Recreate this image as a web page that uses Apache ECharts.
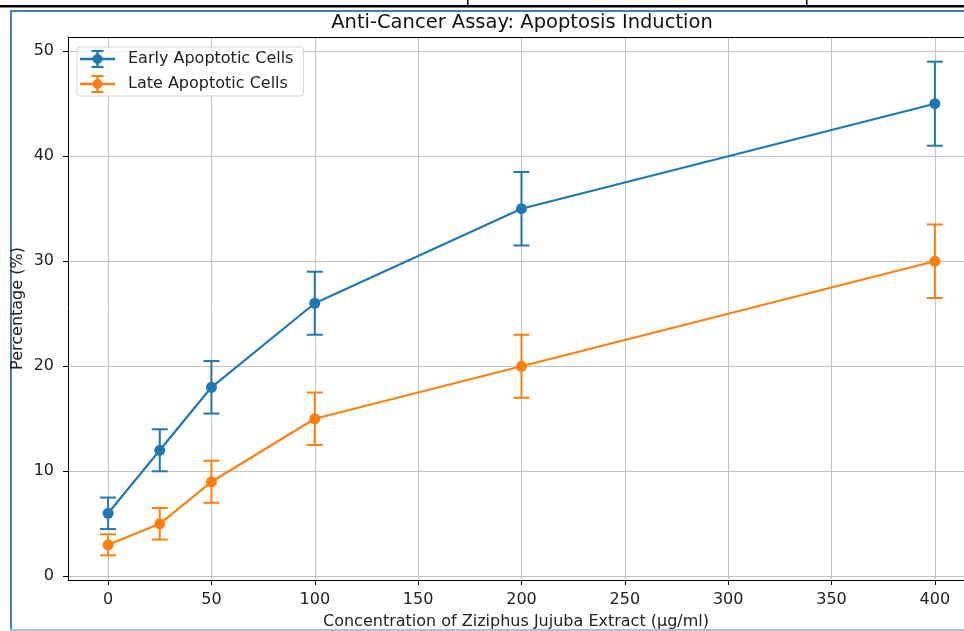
<!DOCTYPE html>
<html>
<head>
<meta charset="utf-8">
<script src="https://cdn.jsdelivr.net/npm/echarts@6/dist/echarts.min.js"></script>
<style>
    html, body { margin: 0; padding: 0; background: #fff; }
    #chart { width: 964px; height: 631px; }
</style>
</head>
<body>
<div id="chart"></div>
<script>
var concentrations = [0, 25, 50, 100, 200, 400];
var earlyMean = [6, 12, 18, 26, 35, 45];
var earlyErr = [1.5, 2, 2.5, 3, 3.5, 4];
var lateMean = [3, 5, 9, 15, 20, 30];
var lateErr = [1, 1.5, 2, 2.5, 3, 3.5];
var xTicks = [0, 50, 100, 150, 200, 250, 300, 350, 400];
var yTicks = [0, 10, 20, 30, 40, 50];

var BLUE = '#1f77b4';
var ORANGE = '#ff7f0e';
var FONT = 'DejaVu Sans';

// errorbar glyph for the legend: horizontal line, vertical bar with caps, dot
var legendIcon = 'path://M0,7.8h35v2.4h-35z M16.3,0h2.4v18h-2.4z M11.5,0h12v2h-12z M11.5,16h12v2h-12z ' +
    'M22.5,9A5,5 0 1,1 12.5,9A5,5 0 1,1 22.5,9z';

function pairs(xs, ys) {
    return xs.map(function (x, i) { return [x, ys[i]]; });
}

function errRows(xs, ys, es) {
    return xs.map(function (x, i) { return [x, ys[i] - es[i], ys[i] + es[i]]; });
}

function errorSeries(name, color, rows) {
    return {
        name: name,
        type: 'custom',
        silent: true,
        data: rows,
        encode: { x: 0, y: [1, 2] },
        renderItem: function (params, api) {
            var lo = api.coord([api.value(0), api.value(1)]);
            var hi = api.coord([api.value(0), api.value(2)]);
            var half = 8;
            var style = { stroke: color, lineWidth: 2, fill: null };
            return {
                type: 'group',
                children: [
                    { type: 'line', shape: { x1: lo[0], y1: lo[1], x2: hi[0], y2: hi[1] }, style: style },
                    { type: 'line', shape: { x1: hi[0] - half, y1: hi[1], x2: hi[0] + half, y2: hi[1] }, style: style },
                    { type: 'line', shape: { x1: lo[0] - half, y1: lo[1], x2: lo[0] + half, y2: lo[1] }, style: style }
                ]
            };
        }
    };
}

function lineSeries(name, color, data) {
    return {
        name: name,
        type: 'line',
        data: data,
        symbol: 'circle',
        symbolSize: 11,
        showAllSymbol: true,
        lineStyle: { color: color, width: 2.2 },
        itemStyle: { color: color },
        emphasis: { disabled: true }
    };
}

var chart = echarts.init(document.getElementById('chart'));

var option = {
    animation: false,
    backgroundColor: '#fff',
    textStyle: { fontFamily: FONT },
    title: {
        text: 'Anti-Cancer Assay: Apoptosis Induction',
        left: 517,
        textAlign: 'center',
        top: 8,
        textStyle: { fontFamily: FONT, fontSize: 19.5, fontWeight: 'normal', color: '#111' }
    },
    legend: {
        left: 77,
        top: 47,
        orient: 'vertical',
        padding: [3, 10, 3, 3],
        itemWidth: 35,
        itemHeight: 18,
        itemGap: 7,
        backgroundColor: 'rgba(255,255,255,0.8)',
        borderColor: '#d5d5d5',
        borderWidth: 1,
        borderRadius: 3,
        textStyle: { fontFamily: FONT, fontSize: 16, color: '#222', padding: [0, 0, 0, 8] },
        data: [
            { name: 'Early Apoptotic Cells', icon: legendIcon, itemStyle: { color: BLUE } },
            { name: 'Late Apoptotic Cells', icon: legendIcon, itemStyle: { color: ORANGE } }
        ],
        selectedMode: false
    },
    grid: {
        left: 68,
        right: 0,
        top: 37,
        bottom: 51,
        outerBoundsMode: 'none'
    },
    xAxis: [{
        type: 'value',
        min: -19.4,
        max: 414.1,
        name: 'Concentration of Ziziphus Jujuba Extract (\u03bcg/ml)',
        nameLocation: 'middle',
        nameGap: 34,
        nameTextStyle: { fontFamily: FONT, fontSize: 16, color: '#222' },
        axisLine: { show: true, onZero: false, lineStyle: { color: '#000', width: 1 } },
        axisTick: { show: true, length: 5, customValues: xTicks, lineStyle: { color: '#000' } },
        axisLabel: { customValues: xTicks, margin: 12, fontFamily: FONT, fontSize: 16, color: '#222' },
        splitLine: { show: true, lineStyle: { color: '#c4c4c4', width: 1 } }
    }, {
        // top spine only
        type: 'value',
        position: 'top',
        min: -19.4,
        max: 414.1,
        axisLine: { show: true, onZero: false, lineStyle: { color: '#000', width: 1 } },
        axisTick: { show: false },
        axisLabel: { show: false },
        splitLine: { show: false }
    }],
    yAxis: {
        type: 'value',
        min: -0.35,
        max: 51.35,
        name: 'Percentage (%)',
        nameLocation: 'middle',
        nameGap: 42,
        nameMoveOverlap: false,
        nameTextStyle: { fontFamily: FONT, fontSize: 16, color: '#222' },
        axisLine: { show: true, onZero: false, lineStyle: { color: '#000', width: 1 } },
        axisTick: { show: true, length: 5, customValues: yTicks, lineStyle: { color: '#000' } },
        axisLabel: { customValues: yTicks, margin: 14, fontFamily: FONT, fontSize: 16, color: '#222' },
        splitLine: { show: true, lineStyle: { color: '#c4c4c4', width: 1 } }
    },
    series: [
        errorSeries('Early error', BLUE, errRows(concentrations, earlyMean, earlyErr)),
        lineSeries('Early Apoptotic Cells', BLUE, pairs(concentrations, earlyMean)),
        errorSeries('Late error', ORANGE, errRows(concentrations, lateMean, lateErr)),
        lineSeries('Late Apoptotic Cells', ORANGE, pairs(concentrations, lateMean))
    ],
    // page frame around the screenshot
    graphic: [
        { type: 'rect', shape: { x: 0, y: 5, width: 964, height: 2.5 }, style: { fill: '#000' }, silent: true },
        { type: 'rect', shape: { x: 467, y: 0, width: 1.5, height: 6 }, style: { fill: '#000' }, silent: true },
        { type: 'rect', shape: { x: 806, y: 0, width: 1.5, height: 6 }, style: { fill: '#000' }, silent: true },
        { type: 'rect', shape: { x: 10, y: 10, width: 954, height: 2 }, style: { fill: '#4a7ebb' }, silent: true },
        { type: 'rect', shape: { x: 10, y: 10, width: 2, height: 621 }, style: { fill: '#4a7ebb' }, silent: true },
        { type: 'rect', shape: { x: 10, y: 629, width: 954, height: 2 }, style: { fill: '#a9c3e6' }, silent: true }
    ]
};

chart.setOption(option);
</script>
</body>
</html>
